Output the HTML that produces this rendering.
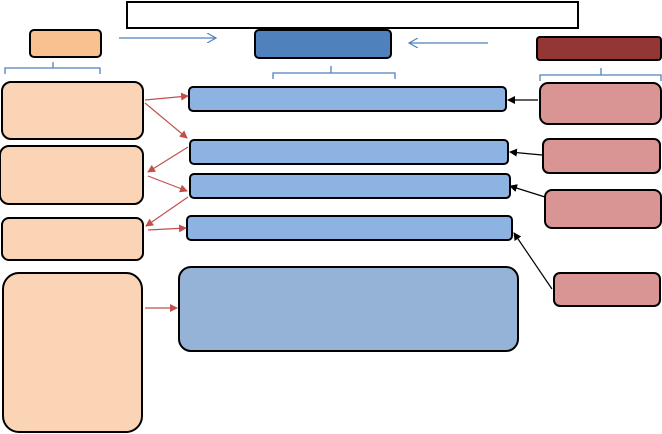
<!DOCTYPE html>
<html><head><meta charset="utf-8"><style>body{margin:0;background:#fff}svg{display:block}</style></head><body>
<svg width="662" height="434" viewBox="0 0 662 434" xmlns="http://www.w3.org/2000/svg">
<defs>
<marker id="r" markerWidth="8" markerHeight="8" refX="7" refY="4" orient="auto" markerUnits="userSpaceOnUse"><path d="M0,0L8,4L0,8z" fill="#c0504d"/></marker>
<marker id="k" markerWidth="8" markerHeight="8" refX="7" refY="4" orient="auto" markerUnits="userSpaceOnUse"><path d="M0,0L8,4L0,8z" fill="#000"/></marker>
<marker id="b" markerWidth="10" markerHeight="10" refX="9" refY="5" orient="auto" markerUnits="userSpaceOnUse"><path d="M0,0L9,5L0,10" fill="none" stroke="#4f81bd" stroke-width="1.2"/></marker>
</defs>
<g stroke="#000" stroke-width="2">
<rect x="127" y="2" width="451" height="26" fill="#fff"/>
<rect x="30" y="30" width="71" height="27" rx="4" fill="#f8c18f"/>
<rect x="255" y="30" width="136" height="28" rx="4" fill="#4f81bd"/>
<rect x="537" y="37" width="124" height="23" rx="3" fill="#943634"/>
<rect x="2" y="82" width="141" height="57" rx="9" fill="#fad4b4"/>
<rect x="0" y="146" width="143" height="58" rx="9" fill="#fad4b4"/>
<rect x="2" y="218" width="141" height="42" rx="7" fill="#fad4b4"/>
<rect x="3" y="273" width="139" height="159" rx="16" fill="#fad4b4"/>
<rect x="189" y="87" width="317" height="24" rx="4" fill="#8db3e2"/>
<rect x="190" y="140" width="318" height="24" rx="4" fill="#8db3e2"/>
<rect x="190" y="174" width="320" height="24" rx="4" fill="#8db3e2"/>
<rect x="187" y="216" width="325" height="24" rx="4" fill="#8db3e2"/>
<rect x="179" y="267" width="339" height="84" rx="12" fill="#95b3d7"/>
<rect x="540" y="83" width="121" height="41" rx="8" fill="#d99594"/>
<rect x="543" y="139" width="117" height="34" rx="6" fill="#d99594"/>
<rect x="545" y="190" width="116" height="38" rx="7" fill="#d99594"/>
<rect x="554" y="273" width="106" height="33" rx="6" fill="#d99594"/>
</g>
<g stroke="#4f81bd" stroke-width="1.3" fill="none">
<line x1="119" y1="38" x2="216" y2="38" marker-end="url(#b)"/>
<line x1="488" y1="43" x2="409" y2="43" marker-end="url(#b)"/>
<path d="M5,74V68H100V74M53,68V62"/>
<path d="M273,79V73H395V79M331,73V66"/>
<path d="M540,81V75H661V81M601,75V68"/>
</g>
<g stroke="#c0504d" stroke-width="1.2">
<line x1="145" y1="100" x2="188" y2="96" marker-end="url(#r)"/>
<line x1="145" y1="103" x2="187" y2="138" marker-end="url(#r)"/>
<line x1="188" y1="147" x2="148" y2="172" marker-end="url(#r)"/>
<line x1="148" y1="176" x2="187" y2="191" marker-end="url(#r)"/>
<line x1="188" y1="197" x2="146" y2="226" marker-end="url(#r)"/>
<line x1="148" y1="230" x2="186" y2="228" marker-end="url(#r)"/>
<line x1="145" y1="308" x2="177" y2="308" marker-end="url(#r)"/>
</g>
<g stroke="#000" stroke-width="1.2">
<line x1="538" y1="100" x2="508" y2="100" marker-end="url(#k)"/>
<line x1="542" y1="155" x2="510" y2="152" marker-end="url(#k)"/>
<line x1="545" y1="197" x2="510" y2="186" marker-end="url(#k)"/>
<line x1="552" y1="289" x2="514" y2="233" marker-end="url(#k)"/>
</g>
</svg>
</body></html>
